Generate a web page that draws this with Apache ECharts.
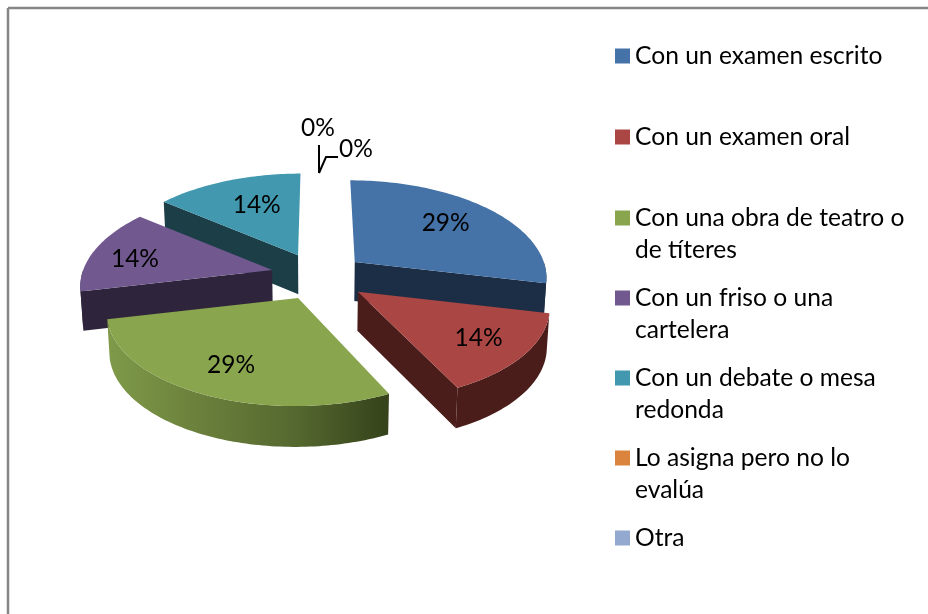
<!DOCTYPE html>
<html><head><meta charset="utf-8">
<style>html,body{margin:0;padding:0;background:#fff}#c{width:928px;height:614px}</style>
<script src="https://cdn.jsdelivr.net/npm/echarts@6/dist/echarts.min.js"></script>
</head><body><div id="c"></div>
<script>
// Data
const categories = ['Con un examen escrito','Con un examen oral','Con una obra de teatro o\nde títeres','Con un friso o una\ncartelera','Con un debate o mesa\nredonda','Lo asigna pero no lo\nevalúa','Otra'];
const values = [2,1,2,1,1,0,0];
const topColors = ['#4572a7','#aa4643','#89a54e','#71588f','#4198af','#db843d','#93a9cf'];
const wallColors = ['#1c2e46','#4a1c1a','#89a54e','#2e243b','#1b3e47','#db843d','#93a9cf'];

// Layout of the drawn pie
const CX=318, CY=275, RX=189, RY=93, K=0.14, DEPTH=40;
const explodeX=[47,51,46,47,46,0,0], explodeY=[21,27,25.5,22,22,0,0];
const labelFrac=[0.65,0.74,0.76,0.78,0.6];
const labelDX=[2,1,4,2,3], labelDY=[-3,0,-3,5,-3];
const drawOrder=[3,4,5,2,1,0,0];
const legendCenter=[56,137,218,298,378,458,538];
const total=values.reduce((a,b)=>a+b,0);
const startAngles=[]; {let acc=0; values.forEach(v=>{startAngles.push(acc/total*Math.PI*2); acc+=v;});}

function project(i,ang,frac,lower){
  const a0=startAngles[i], a1=a0+values[i]/total*Math.PI*2, m=(a0+a1)/2;
  const ox=explodeX[i]*Math.sin(m), ay=CY-explodeY[i]*Math.cos(m);
  const u=Math.sin(ang)*frac, v=-Math.cos(ang)*frac, s=1/(1-K*v);
  let x=CX+(ox+RX*u)*s, y=ay+RY*v*s;
  if(lower){ x=x+(CX-x)*0.012; y=y+DEPTH*(0.93+0.09*(v+1)/2); }
  return [x,y];
}
function arcPts(i,a,b,lower){
  const n=Math.max(2,Math.ceil(Math.abs(b-a)/0.02)),p=[];
  for(let j=0;j<=n;j++)p.push(project(i,a+(b-a)*j/n,1,lower));
  return p;
}
function poly(points,fill,z2){return {type:'polygon',shape:{points},style:{fill,stroke:null},z2,silent:true};}

function renderSlice(i){
  return function(){
    const val=values[i], ch=[];
    if(val===0) return {type:'group',children:[]};
    const a0=startAngles[i], a1=a0+val/total*Math.PI*2, z=drawOrder[i]*10;
    const A=project(i,0,0,false), B=project(i,0,0,true);
    const face=(ang)=>{const P=project(i,ang,1,false),Q=project(i,ang,1,true);return [A,P,Q,B];};
    if(-Math.cos(a1+Math.PI/2)>0) ch.push(poly(face(a1),wallColors[i],z));
    if(-Math.cos(a0-Math.PI/2)>0) ch.push(poly(face(a0),wallColors[i],z));
    const s=Math.max(a0,Math.PI/2), e=Math.min(a1,Math.PI*1.5);
    if(e>s){
      const top=arcPts(i,s,e,false), bot=arcPts(i,e,s,true);
      let fill=wallColors[i];
      if(i===2) fill=new echarts.graphic.LinearGradient(1,0,0,0,[
        {offset:0,color:'#35421a'},{offset:0.33,color:'#55682f'},{offset:0.66,color:'#6a7f3b'},{offset:1,color:'#7f9a49'}]);
      ch.push(poly(top.concat(bot),fill,z+1));
    }
    ch.push(poly([A].concat(arcPts(i,a0,a1,false)),topColors[i],z+2));
    const L=project(i,(a0+a1)/2,labelFrac[i],false);
    ch.push({type:'text',x:L[0]+labelDX[i],y:L[1]+labelDY[i],z2:1000,silent:true,style:{
      text:Math.round(val/total*100)+'%',font:'24.5px Lato',fill:'#000',align:'center',verticalAlign:'middle'}});
    return {type:'group',children:ch};
  };
}
function renderZero(){
  const st={stroke:'#000',lineWidth:2,fill:null};
  const txt=(x,y)=>({type:'text',x,y,z2:1000,silent:true,style:{text:Math.round(values[5]/total*100)+'%',font:'24.5px Lato',fill:'#000',align:'center',verticalAlign:'middle'}});
  return {type:'group',children:[
    {type:'polyline',shape:{points:[[319,145],[319,173]]},style:st,silent:true},
    {type:'polyline',shape:{points:[[319,173],[326,157],[338,157]]},style:st,silent:true},
    txt(318,128),txt(356,149)
  ]};
}

const series=categories.map((name,i)=>({
  type:'custom',name,coordinateSystem:'none',silent:true,animation:false,
  itemStyle:{color:topColors[i]},data:[[values[i]]],
  renderItem:i===5?renderZero:renderSlice(i)
}));
const legend=categories.map((name,i)=>{
  const two=name.indexOf('\n')>=0;
  return {data:[name],orient:'vertical',left:615,top:legendCenter[i]-(two?48:16),padding:0,
    itemWidth:15,itemHeight:15,itemGap:0,icon:'rect',selectedMode:false,
    formatter:(n)=>two?'\n'+n:n,
    textStyle:{fontFamily:'Lato',fontSize:24.6,color:'#000',lineHeight:32}};
});
const chart=echarts.init(document.getElementById('c'),null,{renderer:'canvas'});
chart.setOption({
  backgroundColor:'#fff',animation:false,legend,series,
  graphic:[
    {type:'line',shape:{x1:8,y1:8,x2:928,y2:8},style:{stroke:'#868686',lineWidth:2.5},silent:true},
    {type:'line',shape:{x1:8,y1:8,x2:8,y2:614},style:{stroke:'#868686',lineWidth:2.5},silent:true}
  ]
});
</script></body></html>
